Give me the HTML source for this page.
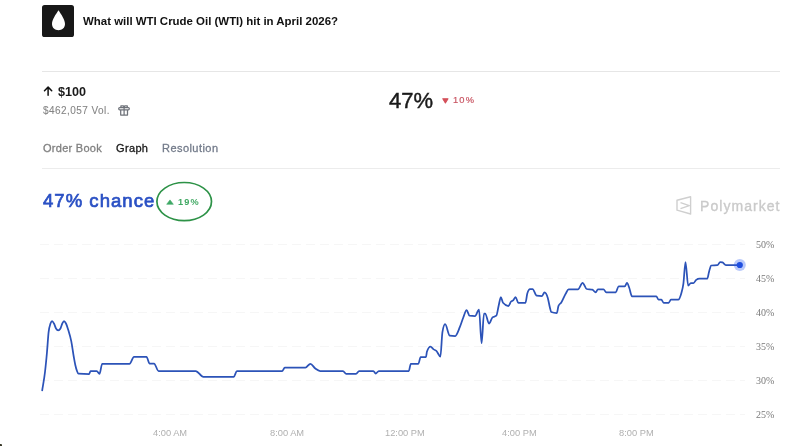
<!DOCTYPE html>
<html><head><meta charset="utf-8">
<style>
html,body{margin:0;padding:0;background:#fff;width:800px;height:446px;overflow:hidden;position:relative;}
body{font-family:"Liberation Sans",sans-serif;}
.t{position:absolute;white-space:nowrap;line-height:1;will-change:transform;}
</style></head><body>
<!-- header icon -->
<div style="position:absolute;left:42px;top:5px;width:32px;height:31.5px;background:#181818;border-radius:2.6px;"></div>
<svg style="position:absolute;left:0;top:0" width="800" height="446">
  <path d="M58.5,10.2 C56,14 52,19.5 52,24 C52,27.8 55,30.2 58.5,30.2 C62,30.2 65,27.8 65,24 C65,19.5 61,14 58.5,10.2 Z" fill="#fff"/>
</svg>
<div class="t" style="left:82.5px;top:16.2px;font-size:11.45px;font-weight:bold;color:#111;">What will WTI Crude Oil (WTI) hit in April 2026?</div>

<!-- separators -->
<div style="position:absolute;left:42px;top:70.5px;width:738px;height:1.3px;background:#e6e6e6;"></div>
<div style="position:absolute;left:42px;top:168px;width:738px;height:1.3px;background:#ececec;"></div>

<!-- outcome -->
<svg style="position:absolute;left:0;top:0" width="800" height="446">
  <path d="M48.1,95.3 L48.1,87.4 M44.5,90.7 L48.1,87.1 L51.7,90.7" stroke="#111" stroke-width="1.5" fill="none" stroke-linecap="round" stroke-linejoin="round"/>
</svg>
<div class="t" style="left:57.5px;top:85.5px;font-size:12.6px;font-weight:bold;color:#1a1a1a;">$100</div>
<div class="t" style="left:42.5px;top:105.5px;font-size:10px;letter-spacing:0.45px;color:#858585;-webkit-text-stroke:0.1px #858585;">$462,057 Vol.</div>
<!-- gift -->
<svg style="position:absolute;left:0;top:0" width="800" height="446">
  <g stroke="#6f737a" stroke-width="1.25" fill="none" stroke-linejoin="round">
    <rect x="118.7" y="107.6" width="10.6" height="2.2" rx="1"/>
    <path d="M120.7,110 L120.7,115.1 L127.5,115.1 L127.5,110"/>
    <path d="M124.1,107.6 L124.1,115.1"/>
    <path d="M120.9,107.4 L120.9,105.9 L123.4,105.9 L124.1,107.2 L124.8,105.9 L127.3,105.9 L127.3,107.4"/>
  </g>
</svg>

<div class="t" style="left:389px;top:89.5px;font-size:22px;color:#1a1a1a;-webkit-text-stroke:0.45px #1a1a1a;">47%</div>
<svg style="position:absolute;left:0;top:0" width="800" height="446">
  <path d="M442.8,98.8 L448,98.8 L445.4,103 Z" fill="#d4505a" stroke="#d4505a" stroke-width="1.1" stroke-linejoin="round"/>
</svg>
<div class="t" style="left:452.8px;top:95.5px;font-size:9.3px;letter-spacing:1.15px;color:#c85462;-webkit-text-stroke:0.2px #c85462;">10%</div>

<!-- tabs -->
<div class="t" style="left:42.5px;top:143.4px;font-size:11px;letter-spacing:0.28px;color:#808080;-webkit-text-stroke:0.3px #808080;">Order Book</div>
<div class="t" style="left:116px;top:143.4px;font-size:11px;letter-spacing:0.35px;color:#181818;-webkit-text-stroke:0.3px #181818;">Graph</div>
<div class="t" style="left:162px;top:143.4px;font-size:11px;letter-spacing:0.45px;color:#737b8a;-webkit-text-stroke:0.3px #737b8a;">Resolution</div>

<!-- chance -->
<div class="t" style="left:43px;top:191.5px;font-size:18.5px;letter-spacing:1.05px;color:#2a50c4;-webkit-text-stroke:0.7px #2a50c4;">47% chance</div>
<svg style="position:absolute;left:0;top:0" width="800" height="446">
  <ellipse cx="184.2" cy="201.6" rx="27.3" ry="19.1" fill="none" stroke="#2d9247" stroke-width="1.7"/>
  <path d="M166.7,204.3 L173.3,204.3 L170,199.9 Z" fill="#3ea865" stroke="#3ea865" stroke-width="0.6" stroke-linejoin="round"/>
</svg>
<div class="t" style="left:177.8px;top:197.8px;font-size:9.2px;font-weight:bold;letter-spacing:1.2px;color:#3fa862;">19%</div>

<!-- polymarket logo -->
<svg style="position:absolute;left:0;top:0" width="800" height="446">
  <g stroke="#cfcfcf" stroke-width="1.4" fill="none" stroke-linejoin="round">
    <path d="M690.6,196.8 L677,200.2 L677,210.2 L690.6,214 Z"/>
    <path d="M680.5,202.6 L689.3,205.6 L680.5,208.6"/>
  </g>
</svg>
<div class="t" style="left:700px;top:198.5px;font-size:14px;letter-spacing:1.05px;color:#cacaca;-webkit-text-stroke:0.35px #cacaca;">Polymarket</div>

<!-- chart -->
<svg style="position:absolute;left:0;top:0" width="800" height="446">
  <g stroke="#f6f6f6" stroke-width="1" stroke-dasharray="9 5">
    <line x1="40" y1="244.5" x2="745" y2="244.5"/>
    <line x1="40" y1="278.5" x2="745" y2="278.5"/>
    <line x1="40" y1="312.5" x2="745" y2="312.5"/>
    <line x1="40" y1="346.5" x2="745" y2="346.5"/>
    <line x1="40" y1="380.5" x2="745" y2="380.5"/>
    <line x1="40" y1="414.5" x2="745" y2="414.5"/>
  </g>
  <path d="M42.20,390.30 C43.13,384.20 44.07,379.99 45.00,372.00 C45.67,366.30 46.33,359.55 47.00,352.00 C47.53,345.96 48.07,336.90 48.60,332.20 C49.23,326.62 49.87,325.36 50.50,323.50 C51.03,321.93 51.57,321.00 52.10,321.00 C52.73,321.00 53.37,322.30 54.00,323.50 C54.67,324.76 55.33,327.41 56.00,328.50 C56.73,329.70 57.47,330.30 58.20,330.30 C58.97,330.30 59.73,329.70 60.50,328.50 C61.10,327.56 61.70,324.76 62.30,323.50 C62.87,322.31 63.43,321.00 64.00,321.00 C64.67,321.00 65.33,322.18 66.00,323.50 C66.77,325.02 67.53,327.52 68.30,330.00 C69.30,333.23 70.30,336.16 71.30,341.30 C72.13,345.58 72.97,352.26 73.80,357.00 C74.30,359.84 74.80,362.76 75.30,365.00 C75.87,367.54 76.43,369.50 77.00,371.00 C77.47,372.24 77.93,373.67 78.40,373.70 C82.00,373.90 85.60,374.00 89.20,374.00 C89.63,374.00 90.07,371.20 90.50,371.20 C92.60,371.20 94.70,371.20 96.80,371.20 C97.70,371.20 98.60,373.90 99.50,373.90 C100.40,373.90 101.30,363.80 102.20,363.80 C111.30,363.80 120.40,363.80 129.50,363.80 C131.00,363.80 132.50,356.90 134.00,356.90 C138.17,356.90 142.33,356.90 146.50,356.90 C147.53,356.90 148.57,363.50 149.60,363.50 C151.07,363.50 152.53,363.50 154.00,363.50 C155.53,363.50 157.07,371.00 158.60,371.00 C170.97,371.00 183.33,371.00 195.70,371.00 C198.27,371.00 200.83,376.80 203.40,376.80 C213.53,376.80 223.67,376.80 233.80,376.80 C234.83,376.80 235.87,371.00 236.90,371.00 C251.97,371.00 267.03,371.00 282.10,371.00 C283.00,371.00 283.90,367.60 284.80,367.60 C291.67,367.60 298.53,367.60 305.40,367.60 C307.07,367.60 308.73,363.80 310.40,363.80 C312.03,363.80 313.67,367.30 315.30,368.50 C316.93,369.70 318.57,371.00 320.20,371.00 C327.80,371.00 335.40,371.00 343.00,371.00 C344.07,371.00 345.13,373.90 346.20,373.90 C349.47,373.90 352.73,373.90 356.00,373.90 C357.03,373.90 358.07,371.00 359.10,371.00 C363.87,371.00 368.63,371.00 373.40,371.00 C374.17,371.00 374.93,373.50 375.70,373.50 C376.73,373.50 377.77,371.00 378.80,371.00 C388.80,371.00 398.80,371.00 408.80,371.00 C409.47,371.00 410.13,363.80 410.80,363.80 C413.33,363.80 415.87,363.80 418.40,363.80 C419.13,363.80 419.87,357.00 420.60,357.00 C422.40,357.00 424.20,357.00 426.00,357.00 C426.30,357.00 426.60,352.53 426.90,351.70 C428.10,348.37 429.30,346.70 430.50,346.70 C431.53,346.70 432.57,348.69 433.60,349.40 C434.50,350.01 435.40,350.02 436.30,350.80 C437.67,351.98 439.03,356.50 440.40,356.50 C441.07,356.50 441.73,336.30 442.40,332.30 C443.30,326.90 444.20,324.20 445.10,324.20 C446.67,324.20 448.23,335.53 449.80,335.70 C451.60,335.90 453.40,336.00 455.20,336.00 C456.77,336.00 458.33,330.69 459.90,326.90 C461.03,324.16 462.17,320.33 463.30,317.50 C464.40,314.75 465.50,310.10 466.60,310.10 C467.57,310.10 468.53,315.59 469.50,315.70 C471.33,315.90 473.17,316.00 475.00,316.00 C476.33,316.00 477.67,309.60 479.00,309.60 C479.87,309.60 480.73,343.20 481.60,343.20 C482.40,343.20 483.20,313.50 484.00,313.50 C484.40,313.50 484.80,313.50 485.20,313.50 C486.47,313.50 487.73,323.60 489.00,323.60 C490.17,323.60 491.33,318.42 492.50,317.40 C493.80,316.27 495.10,316.83 496.40,315.70 C497.13,315.06 497.87,309.06 498.60,306.00 C499.37,302.81 500.13,297.00 500.90,297.00 C501.60,297.00 502.30,301.97 503.00,302.80 C504.80,304.93 506.60,306.00 508.40,306.00 C509.30,306.00 510.20,302.46 511.10,301.50 C511.87,300.68 512.63,300.98 513.40,300.20 C514.13,299.45 514.87,297.00 515.60,297.00 C516.50,297.00 517.40,302.80 518.30,302.80 C520.70,302.80 523.10,302.80 525.50,302.80 C526.10,302.80 526.70,295.36 527.30,293.40 C528.20,290.47 529.10,289.00 530.00,289.00 C530.87,289.00 531.73,289.00 532.60,289.00 C533.97,289.00 535.33,295.55 536.70,295.70 C538.47,295.90 540.23,296.00 542.00,296.00 C542.83,296.00 543.67,292.40 544.50,292.40 C545.60,292.40 546.70,294.27 547.80,298.00 C548.53,300.49 549.27,305.24 550.00,308.00 C550.40,309.50 550.80,311.86 551.20,312.00 C553.07,312.67 554.93,313.00 556.80,313.00 C557.37,313.00 557.93,307.28 558.50,305.90 C559.43,303.63 560.37,303.91 561.30,302.50 C562.80,300.23 564.30,296.04 565.80,293.50 C566.73,291.92 567.67,289.30 568.60,289.30 C571.73,289.30 574.87,289.30 578.00,289.30 C579.53,289.30 581.07,282.90 582.60,282.90 C583.97,282.90 585.33,288.71 586.70,289.00 C588.57,289.40 590.43,289.20 592.30,289.60 C593.43,289.84 594.57,292.40 595.70,292.40 C596.43,292.40 597.17,289.30 597.90,289.30 C599.77,289.30 601.63,289.30 603.50,289.30 C604.43,289.30 605.37,292.40 606.30,292.40 C609.47,292.40 612.63,292.40 615.80,292.40 C616.73,292.40 617.67,286.30 618.60,286.30 C620.67,286.30 622.73,286.30 624.80,286.30 C625.53,286.30 626.27,282.90 627.00,282.90 C627.77,282.90 628.53,286.00 629.30,288.00 C630.20,290.35 631.10,296.30 632.00,296.30 C640.10,296.30 648.20,296.30 656.30,296.30 C657.07,296.30 657.83,299.70 658.60,299.70 C659.53,299.70 660.47,299.70 661.40,299.70 C662.13,299.70 662.87,302.80 663.60,302.80 C665.30,302.80 667.00,302.80 668.70,302.80 C669.43,302.80 670.17,299.70 670.90,299.70 C673.33,299.70 675.77,299.70 678.20,299.70 C679.27,299.70 680.33,296.94 681.40,293.00 C682.07,290.53 682.73,288.53 683.40,283.60 C684.10,278.42 684.80,262.10 685.50,262.10 C686.40,262.10 687.30,285.70 688.20,285.70 C689.07,285.70 689.93,283.00 690.80,283.00 C691.70,283.00 692.60,283.00 693.50,283.00 C694.40,283.00 695.30,280.54 696.20,279.90 C697.33,279.10 698.47,278.73 699.60,278.70 C702.17,278.63 704.73,278.67 707.30,278.60 C707.87,278.59 708.43,273.88 709.00,271.90 C709.73,269.34 710.47,265.57 711.20,265.50 C713.27,265.30 715.33,265.40 717.40,265.20 C718.33,265.11 719.27,262.00 720.20,262.00 C720.93,262.00 721.67,262.13 722.40,262.40 C723.70,262.87 725.00,265.20 726.30,265.20 C730.80,265.20 735.30,265.20 739.80,265.20" fill="none" stroke="#2c53b8" stroke-width="1.75" stroke-linejoin="round" stroke-linecap="round"/>
  <circle cx="739.8" cy="265" r="6" fill="#2a5cf0" fill-opacity="0.33"/>
  <circle cx="739.8" cy="265" r="3.1" fill="#1f4fe0"/>
</svg>
<div class="t" style="left:755.5px;top:239.8px;font-size:10px;font-family:'Liberation Serif',serif;color:#7a7a7a;">50%</div>
<div class="t" style="left:755.5px;top:273.8px;font-size:10px;font-family:'Liberation Serif',serif;color:#7a7a7a;">45%</div>
<div class="t" style="left:755.5px;top:307.8px;font-size:10px;font-family:'Liberation Serif',serif;color:#7a7a7a;">40%</div>
<div class="t" style="left:755.5px;top:341.8px;font-size:10px;font-family:'Liberation Serif',serif;color:#7a7a7a;">35%</div>
<div class="t" style="left:755.5px;top:375.8px;font-size:10px;font-family:'Liberation Serif',serif;color:#7a7a7a;">30%</div>
<div class="t" style="left:755.5px;top:409.8px;font-size:10px;font-family:'Liberation Serif',serif;color:#7a7a7a;">25%</div>

<div class="t" style="left:153px;top:428.7px;font-size:9.3px;color:#b0b0b0;">4:00 AM</div>
<div class="t" style="left:270px;top:428.7px;font-size:9.3px;color:#b0b0b0;">8:00 AM</div>
<div class="t" style="left:384.5px;top:428.7px;font-size:9.3px;color:#b0b0b0;">12:00 PM</div>
<div class="t" style="left:501.5px;top:428.7px;font-size:9.3px;color:#b0b0b0;">4:00 PM</div>
<div class="t" style="left:619px;top:428.7px;font-size:9.3px;color:#b0b0b0;">8:00 PM</div>
<div style="position:absolute;left:0;top:444px;width:2px;height:2px;background:#3a3a2a;border-top-right-radius:1px;"></div>
</body></html>
